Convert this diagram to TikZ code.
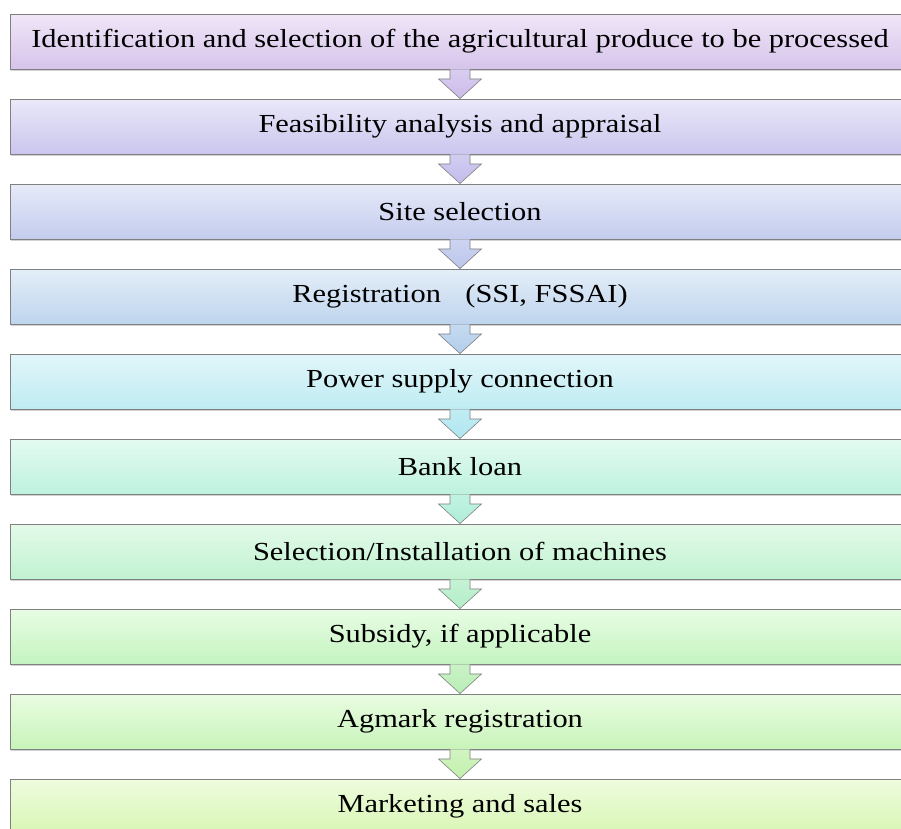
\documentclass[tikz,border=0pt]{standalone}
\usepackage{fontspec}
\setmainfont{Liberation Serif}
\usetikzlibrary{shadows,calc}

\definecolor{topA}{RGB}{240,230,248}\definecolor{botA}{RGB}{214,196,234}
\definecolor{topB}{RGB}{234,232,248}\definecolor{botB}{RGB}{202,198,238}
\definecolor{topC}{RGB}{230,234,248}\definecolor{botC}{RGB}{196,204,238}
\definecolor{topD}{RGB}{228,238,248}\definecolor{botD}{RGB}{190,212,238}
\definecolor{topE}{RGB}{226,246,250}\definecolor{botE}{RGB}{190,236,242}
\definecolor{topF}{RGB}{228,250,240}\definecolor{botF}{RGB}{190,242,222}
\definecolor{topG}{RGB}{228,250,234}\definecolor{botG}{RGB}{192,242,208}
\definecolor{topH}{RGB}{232,252,228}\definecolor{botH}{RGB}{196,244,192}
\definecolor{topI}{RGB}{234,252,226}\definecolor{botI}{RGB}{200,244,186}
\definecolor{topJ}{RGB}{238,252,222}\definecolor{botJ}{RGB}{216,246,180}
% arrow fills
\definecolor{arrA}{RGB}{204,188,234}\definecolor{arrB}{RGB}{194,188,236}
\definecolor{arrC}{RGB}{188,198,236}\definecolor{arrD}{RGB}{178,206,236}
\definecolor{arrE}{RGB}{174,230,240}\definecolor{arrF}{RGB}{174,238,216}
\definecolor{arrG}{RGB}{178,238,200}\definecolor{arrH}{RGB}{184,238,180}
\definecolor{arrI}{RGB}{194,240,172}
\definecolor{edge}{RGB}{128,128,128}

\tikzset{
  stepbox/.style={draw=edge, line width=0.9pt, minimum width=900pt,
    minimum height=55pt, inner sep=0pt, font=\fontsize{26}{30}\selectfont,
    drop shadow={shadow xshift=1pt, shadow yshift=-2pt, opacity=0.35}},
  blockarr/.style={draw=edge, line width=0.6pt}
}
% text in the boxes is set a little wider than the font
\newcommand{\widetext}[1]{\scalebox{1.17}[1]{#1}}
% block arrow from the bottom of one box to the top of the next
\newcommand{\flowarrow}[3]{%
  \draw[blockarr, top color=#3!75!white, bottom color=#3]
    ($(#1.south)+(-10,0)$) -- ($(#1.south)+(-10,9.5)$) -- ($(#1.south)+(-21.5,9.5)$)
    -- (#2.north) -- ($(#1.south)+(21.5,9.5)$) -- ($(#1.south)+(10,9.5)$)
    -- ($(#1.south)+(10,0)$);}

\begin{document}
\begin{tikzpicture}[x=1pt,y=-1pt]
  \useasboundingbox (0,0) rectangle (901,828);
  \fill[white] (0,0) rectangle (901,828);

  \node[stepbox, top color=topA, bottom color=botA] (b1) at (460,41.5)
    {\widetext{Identification and selection of the agricultural produce to be processed}};
  \node[stepbox, top color=topB, bottom color=botB] (b2) at (460,126.5)
    {\widetext{Feasibility analysis and appraisal}};
  \node[stepbox, top color=topC, bottom color=botC] (b3) at (460,211.5)
    {\widetext{Site selection}};
  \node[stepbox, top color=topD, bottom color=botD] (b4) at (460,296.5)
    {\widetext{Registration\hspace{0.55em} (SSI, FSSAI)}};
  \node[stepbox, top color=topE, bottom color=botE] (b5) at (460,381.5)
    {\widetext{Power supply connection}};
  \node[stepbox, top color=topF, bottom color=botF] (b6) at (460,466.5)
    {\widetext{Bank loan}};
  \node[stepbox, top color=topG, bottom color=botG] (b7) at (460,551.5)
    {\widetext{Selection/Installation of machines}};
  \node[stepbox, top color=topH, bottom color=botH] (b8) at (460,636.5)
    {\widetext{Subsidy, if applicable}};
  \node[stepbox, top color=topI, bottom color=botI] (b9) at (460,721.5)
    {\widetext{Agmark registration}};
  \node[stepbox, top color=topJ, bottom color=botJ] (b10) at (460,806.5)
    {\widetext{Marketing and sales}};

  \flowarrow{b1}{b2}{arrA}
  \flowarrow{b2}{b3}{arrB}
  \flowarrow{b3}{b4}{arrC}
  \flowarrow{b4}{b5}{arrD}
  \flowarrow{b5}{b6}{arrE}
  \flowarrow{b6}{b7}{arrF}
  \flowarrow{b7}{b8}{arrG}
  \flowarrow{b8}{b9}{arrH}
  \flowarrow{b9}{b10}{arrI}
\end{tikzpicture}
\end{document}
